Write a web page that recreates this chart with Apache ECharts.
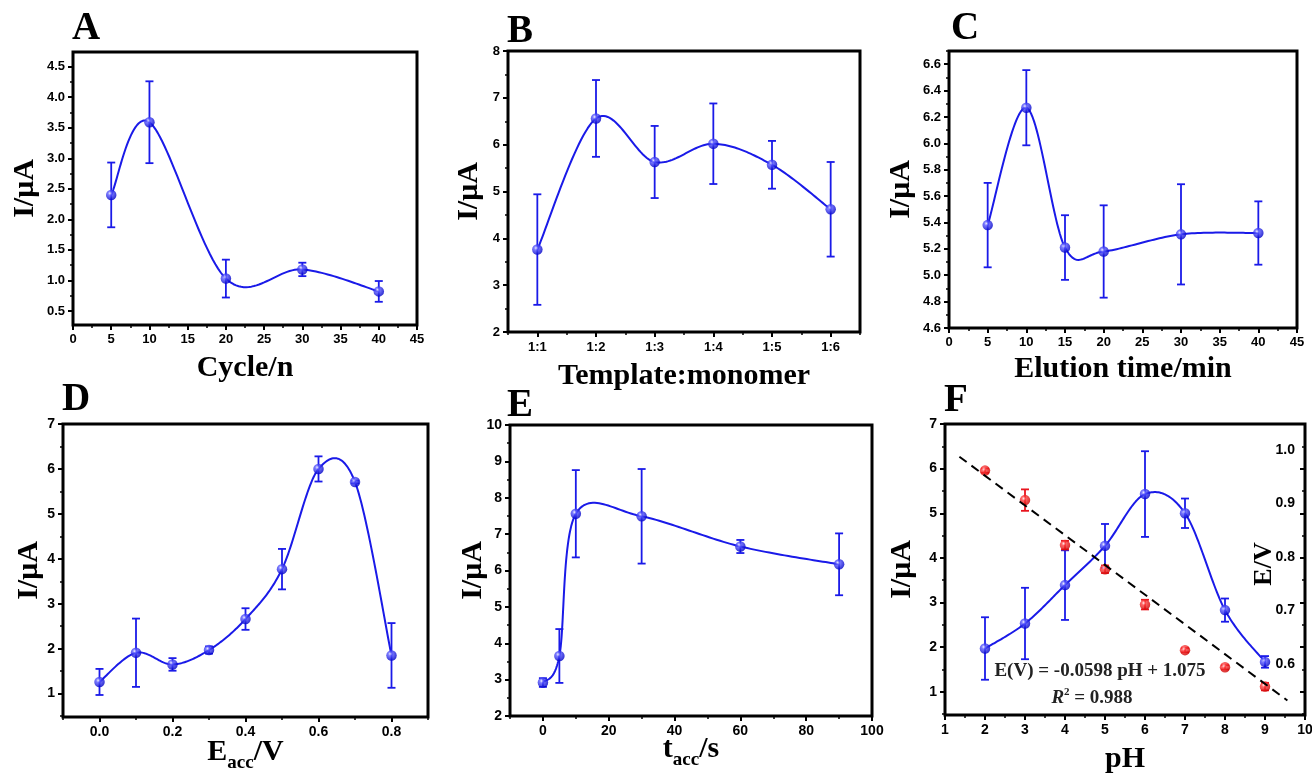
<!DOCTYPE html>
<html><head><meta charset="utf-8">
<script src="https://cdn.jsdelivr.net/npm/echarts@6.0.0/dist/echarts.min.js"></script>
<style>html,body{margin:0;padding:0;background:#fff}#c{width:1312px;height:775px}</style>
</head><body><div id="c"></div><script>
// ---------------- data ----------------
const cycleX = [5, 10, 20, 30, 40];
const cycleI = [2.40, 3.59, 1.03, 1.18, 0.82];
const cycleErr = [0.53, 0.67, 0.31, 0.11, 0.17];

const ratioCats = ['1:1', '1:2', '1:3', '1:4', '1:5', '1:6'];
const ratioI = [3.76, 6.56, 5.63, 6.02, 5.57, 4.62];
const ratioErr = [1.18, 0.82, 0.77, 0.86, 0.51, 1.01];

const elutionX = [5, 10, 15, 20, 30, 40];
const elutionI = [5.38, 6.27, 5.21, 5.18, 5.31, 5.32];
const elutionErr = [0.32, 0.285, 0.245, 0.35, 0.38, 0.24];

const eaccX = [0, 0.1, 0.2, 0.3, 0.4, 0.5, 0.6, 0.7, 0.8];
const eaccI = [1.26, 1.91, 1.65, 1.97, 2.66, 3.77, 6.00, 5.71, 1.85];
const eaccErr = [0.29, 0.76, 0.14, 0.08, 0.24, 0.45, 0.28, 0.03, 0.72];

const taccX = [0, 5, 10, 30, 60, 90];
const taccI = [2.92, 3.65, 7.56, 7.49, 6.66, 6.17];
const taccErr = [0.12, 0.74, 1.2, 1.3, 0.18, 0.85];

const phX = [2, 3, 4, 5, 6, 7, 8, 9];
const phI = [1.97, 2.53, 3.39, 4.27, 5.43, 5.00, 2.83, 1.67];
const phIErr = [0.70, 0.80, 0.78, 0.49, 0.96, 0.33, 0.26, 0.13];
const phE = [0.961, 0.906, 0.822, 0.777, 0.711, 0.626, 0.594, 0.558];
const phEErr = [0.004, 0.02, 0.008, 0.007, 0.009, 0.004, 0.004, 0.007];
const fitLine = [[1.36, 0.987], [9.56, 0.532]];
const fitEquation = 'E(V) = -0.0598 pH + 1.075';
const fitR2 = '0.988';

// tick labels
const aXTicks = [0, 5, 10, 15, 20, 25, 30, 35, 40, 45];
const aYTicks = [0.5, 1.0, 1.5, 2.0, 2.5, 3.0, 3.5, 4.0, 4.5];
const bYTicks = [2, 3, 4, 5, 6, 7, 8];
const cXTicks = [0, 5, 10, 15, 20, 25, 30, 35, 40, 45];
const cYTicks = [4.6, 4.8, 5.0, 5.2, 5.4, 5.6, 5.8, 6.0, 6.2, 6.4, 6.6];
const dXTicks = [0.0, 0.2, 0.4, 0.6, 0.8];
const dYTicks = [1, 2, 3, 4, 5, 6, 7];
const eXTicks = [0, 20, 40, 60, 80, 100];
const eYTicks = [2, 3, 4, 5, 6, 7, 8, 9, 10];
const fXTicks = [1, 2, 3, 4, 5, 6, 7, 8, 9, 10];
const fYTicks = [1, 2, 3, 4, 5, 6, 7];
const fY2Ticks = [0.6, 0.7, 0.8, 0.9, 1.0];

// ---------------- styling helpers ----------------
const SANS = 'Liberation Sans, Arial, sans-serif';
const SERIF = 'Liberation Serif, Times New Roman, serif';
const BLUE = '#1a1ae8';
const RED = '#e8141e';
const blueBall = {type:'radial', x:0.38, y:0.35, r:0.65, colorStops:[
  {offset:0, color:'#f0f0ff'}, {offset:0.3, color:'#5a5aff'}, {offset:1, color:'#0000c8'}]};
const redBall = {type:'radial', x:0.38, y:0.35, r:0.65, colorStops:[
  {offset:0, color:'#fff0f0'}, {offset:0.3, color:'#ff4040'}, {offset:1, color:'#cc0000'}]};

function mids(arr, min, max) {
  const step = arr[1] - arr[0];
  const out = [];
  for (let i = -1; i < arr.length; i++) {
    const v = (i < 0 ? arr[0] - step / 2 : arr[i] + step / 2);
    if (v >= min - 1e-9 && v <= max + 1e-9) out.push(+v.toFixed(6));
  }
  return out;
}
let LBL_SIZE = 13;
function lbl(fmt) {
  return {fontSize:LBL_SIZE, fontWeight:'bold', fontFamily:SANS, color:'#000', formatter: fmt};
}
const f1 = v => Number(v).toFixed(1);
const f0 = v => String(Math.round(v));
const tickLine = {color:'#000', width:2};
const minorLine = {color:'#000', width:1.5};
function nameCfg(name, gap, rotate, rich) {
  const o = {name, nameLocation:'middle', nameGap:gap, nameMoveOverlap:false,
    nameTextStyle:{fontSize:30, fontWeight:'bold', fontFamily:SERIF, color:'#000'}};
  if (rotate) o.nameRotate = 90;
  if (rich) o.nameTextStyle.rich = rich;
  return o;
}
const subRich = {
  m:{fontSize:30, fontWeight:'bold', fontFamily:SERIF, color:'#000', lineHeight:42},
  s:{fontSize:19, fontWeight:'bold', fontFamily:SERIF, color:'#000', lineHeight:19, verticalAlign:'bottom'}
};

const grids = [], xAxes = [], yAxes = [], series = [], graphics = [];

function addValAxis(list, g, pos, min, max, majors, fmt, name, opts) {
  opts = opts || {};
  const idx = list.length;
  const main = Object.assign({
    type:'value', gridIndex:g, position:pos, min, max, scale:true,
    axisLine:{show:false, onZero:false},
    axisTick:{show:!opts.noTicks, inside:!!opts.inside, customValues:majors, length:5, lineStyle:tickLine},
    axisLabel:Object.assign({show:!opts.noLabels, customValues:majors, margin:opts.margin || 8, inside:!!opts.labelInside}, lbl(fmt)),
    splitLine:{show:false}
  }, name || {});
  list.push(main);
  if (!opts.noMinor) {
    list.push({type:'value', gridIndex:g, position:pos, min, max, scale:true,
      axisLine:{show:false, onZero:false},
      axisTick:{show:true, inside:!!opts.inside, customValues:mids(majors, min, max), length:3, lineStyle:minorLine},
      axisLabel:{show:false}, splitLine:{show:false}});
  }
  return idx;
}
function addGrid(box) {
  grids.push({left:box[0], top:box[1], width:box[2], height:box[3], show:true,
    borderColor:'#000', borderWidth:3, backgroundColor:'transparent', containLabel:false, outerBoundsMode:'none'});
  return grids.length - 1;
}
function errRender(color) {
  return function (params, api) {
    const x = api.value(0), y = api.value(1), e = api.value(2);
    const t = api.coord([x, y + e]), b = api.coord([x, y - e]);
    const hw = 4, st = {stroke:color, lineWidth:1.8};
    return {type:'group', children:[
      {type:'line', shape:{x1:t[0], y1:t[1], x2:b[0], y2:b[1]}, style:st},
      {type:'line', shape:{x1:t[0]-hw, y1:t[1], x2:t[0]+hw, y2:t[1]}, style:st},
      {type:'line', shape:{x1:b[0]-hw, y1:b[1], x2:b[0]+hw, y2:b[1]}, style:st}
    ]};
  };
}
// Catmull-Rom spline drawn through the pixel positions of the data points
function splinePath(P, steps) {
  const n = P.length, pts = [];
  const at = i => P[Math.max(0, Math.min(n - 1, i))];
  for (let i = 0; i < n - 1; i++) {
    const p0 = at(i - 1), p1 = at(i), p2 = at(i + 1), p3 = at(i + 2);
    const c1 = [p1[0] + (p2[0] - p0[0]) / 6, p1[1] + (p2[1] - p0[1]) / 6];
    const c2 = [p2[0] - (p3[0] - p1[0]) / 6, p2[1] - (p3[1] - p1[1]) / 6];
    for (let k = 0; k < steps; k++) {
      const t = k / steps, u = 1 - t;
      const a = u * u * u, b = 3 * u * u * t, c = 3 * u * t * t, d = t * t * t;
      pts.push([a * p1[0] + b * c1[0] + c * c2[0] + d * p2[0], a * p1[1] + b * c1[1] + c * c2[1] + d * p2[1]]);
    }
  }
  pts.push(P[n - 1]);
  return pts;
}
function addSeries(xi, yi, xs, ys, es, opts) {
  opts = opts || {};
  const color = opts.color || BLUE;
  const z = opts.z || 3;
  series.push({type:'custom', xAxisIndex:xi, yAxisIndex:yi, renderItem:errRender(color),
    encode:{x:0, y:1}, data: xs.map((x, i) => [x, ys[i], es[i]]), z:z - 1, silent:true});
  if (!opts.scatter) {
    series.push({type:'custom', xAxisIndex:xi, yAxisIndex:yi, encode:{x:0, y:1},
      data: xs.map((x, i) => [x, ys[i]]), z:z, silent:true,
      renderItem: function (params, api) {
        if (params.dataIndex !== 0) return null;
        const P = xs.map((x, i) => api.coord([x, ys[i]]));
        return {type:'polyline', shape:{points:splinePath(P, 30)},
          style:{stroke:color, lineWidth:2, fill:null, lineJoin:'round'}};
      }});
  }
  series.push({type:'scatter', xAxisIndex:xi, yAxisIndex:yi,
    data: xs.map((x, i) => [x, ys[i]]), symbol:'circle', symbolSize:10.5,
    itemStyle:{color: opts.scatter ? redBall : blueBall}, z:z + 1, silent:true});
}
function letter(t, x, y) {
  graphics.push({type:'text', x, y, style:{text:t, fontSize:39, fontWeight:'bold', fontFamily:SERIF,
    fill:'#000', align:'center', verticalAlign:'middle', textAlign:'center', textVerticalAlign:'middle'}});
}

// ---------------- A ----------------
{
  const g = addGrid([73, 52, 344, 273]);
  const xi = addValAxis(xAxes, g, 'bottom', 0, 45, aXTicks, f0, nameCfg('Cycle/n', 28));
  const yi = addValAxis(yAxes, g, 'left', 0.27, 4.74, aYTicks, f1, nameCfg('I/\u03bcA', 33, true));
  addSeries(xi, yi, cycleX, cycleI, cycleErr);
  letter('A', 86, 29);
}
// ---------------- B ----------------
{
  const g = addGrid([508, 51, 352, 281]);
  const xi = xAxes.length;
  xAxes.push(Object.assign({type:'category', gridIndex:g, position:'bottom', data:ratioCats, boundaryGap:true,
    axisLine:{show:false, onZero:false}, axisTick:{show:true, alignWithLabel:true, interval:0, length:5, lineStyle:tickLine},
    axisLabel:Object.assign({interval:0, margin:9}, lbl(null)), splitLine:{show:false}},
    nameCfg('Template:monomer', 29)));
  xAxes.push({type:'category', gridIndex:g, position:'bottom', data:ratioCats, boundaryGap:true,
    axisLine:{show:false, onZero:false}, axisTick:{show:true, interval:0, length:3, lineStyle:minorLine},
    axisLabel:{show:false}, splitLine:{show:false}});
  const yi = addValAxis(yAxes, g, 'left', 2, 8, bYTicks, f0, nameCfg('I/\u03bcA', 24, true));
  addSeries(xi, yi, ratioCats.map((c, i) => i), ratioI, ratioErr);
  letter('B', 520, 32);
}
// ---------------- C ----------------
{
  const g = addGrid([949, 51, 348, 277]);
  const xi = addValAxis(xAxes, g, 'bottom', 0, 45, cXTicks, f0, nameCfg('Elution time/min', 26));
  const yi = addValAxis(yAxes, g, 'left', 4.6, 6.7, cYTicks, f1, nameCfg('I/\u03bcA', 33, true));
  addSeries(xi, yi, elutionX, elutionI, elutionErr);
  letter('C', 965, 29);
}
LBL_SIZE = 14;
// ---------------- D ----------------
{
  const g = addGrid([63, 424, 365, 293]);
  const xi = addValAxis(xAxes, g, 'bottom', -0.1, 0.9, dXTicks, f1,
    nameCfg('{m|E}{s|acc}{m|/V}', 14, false, subRich));
  const yi = addValAxis(yAxes, g, 'left', 0.48, 7, dYTicks, f0, nameCfg('I/\u03bcA', 19, true));
  addSeries(xi, yi, eaccX, eaccI, eaccErr);
  letter('D', 76, 400);
}
// ---------------- E ----------------
{
  const g = addGrid([510, 425, 362, 291]);
  const xi = addValAxis(xAxes, g, 'bottom', -10, 100, eXTicks, f0,
    nameCfg('{m|t}{s|acc}{m|/s}', 12, false, subRich));
  const yi = addValAxis(yAxes, g, 'left', 2, 10, eYTicks, f0, nameCfg('I/\u03bcA', 22, true));
  addSeries(xi, yi, taccX, taccI, taccErr);
  letter('E', 520, 406);
}
// ---------------- F ----------------
{
  const g = addGrid([945, 424, 360, 291]);
  const xi = addValAxis(xAxes, g, 'bottom', 1, 10, fXTicks, f0, nameCfg('pH', 29));
  const yi = addValAxis(yAxes, g, 'left', 0.48, 7, fYTicks, f0, nameCfg('I/\u03bcA', 28, true));
  // mirrored ticks of the left axis on the right side (inside)
  addValAxis(yAxes, g, 'right', 0.48, 7, fYTicks, f0, null, {inside:true, noLabels:true});
  // right E axis (labels inside, no ticks)
  const yr = addValAxis(yAxes, g, 'right', 0.505, 1.048, fY2Ticks, f1, null,
    {noTicks:true, noMinor:true, labelInside:true, margin:10});
  addSeries(xi, yi, phX, phI, phIErr);
  addSeries(xi, yr, phX, phE, phEErr, {color:RED, scatter:true, z:6});
  series.push({type:'line', xAxisIndex:xi, yAxisIndex:yr, data:fitLine, symbol:'none',
    lineStyle:{color:'#000', width:2, type:[9, 6]}, z:8, silent:true});
  letter('F', 956, 401);
  graphics.push({type:'text', x:1264, y:564, rotation:Math.PI / 2,
    style:{text:'E/V', fontSize:26, fontWeight:'bold', fontFamily:SERIF, fill:'#000',
      align:'center', verticalAlign:'middle', textAlign:'center', textVerticalAlign:'middle'}});
  graphics.push({type:'text', x:1100, y:671,
    style:{text:fitEquation, fontSize:19, fontWeight:'bold', fontFamily:SERIF, fill:'#222',
      align:'center', verticalAlign:'middle', textAlign:'center', textVerticalAlign:'middle'}});
  graphics.push({type:'text', x:1092, y:698,
    style:{text:'{i|R}{p|2}{n| = ' + fitR2 + '}', align:'center', verticalAlign:'middle',
      textAlign:'center', textVerticalAlign:'middle',
      rich:{
        i:{fontSize:19, fontWeight:'bold', fontStyle:'italic', fontFamily:SERIF, fill:'#222', lineHeight:22},
        p:{fontSize:11, fontWeight:'bold', fontFamily:SERIF, fill:'#222', lineHeight:11, verticalAlign:'top'},
        n:{fontSize:19, fontWeight:'bold', fontFamily:SERIF, fill:'#222', lineHeight:22}
      }}});
}

const chart = echarts.init(document.getElementById('c'), null, {renderer:'canvas'});
chart.setOption({
  animation:false,
  backgroundColor:'#ffffff',
  grid:grids, xAxis:xAxes, yAxis:yAxes, series, graphic:graphics
});
</script></body></html>
